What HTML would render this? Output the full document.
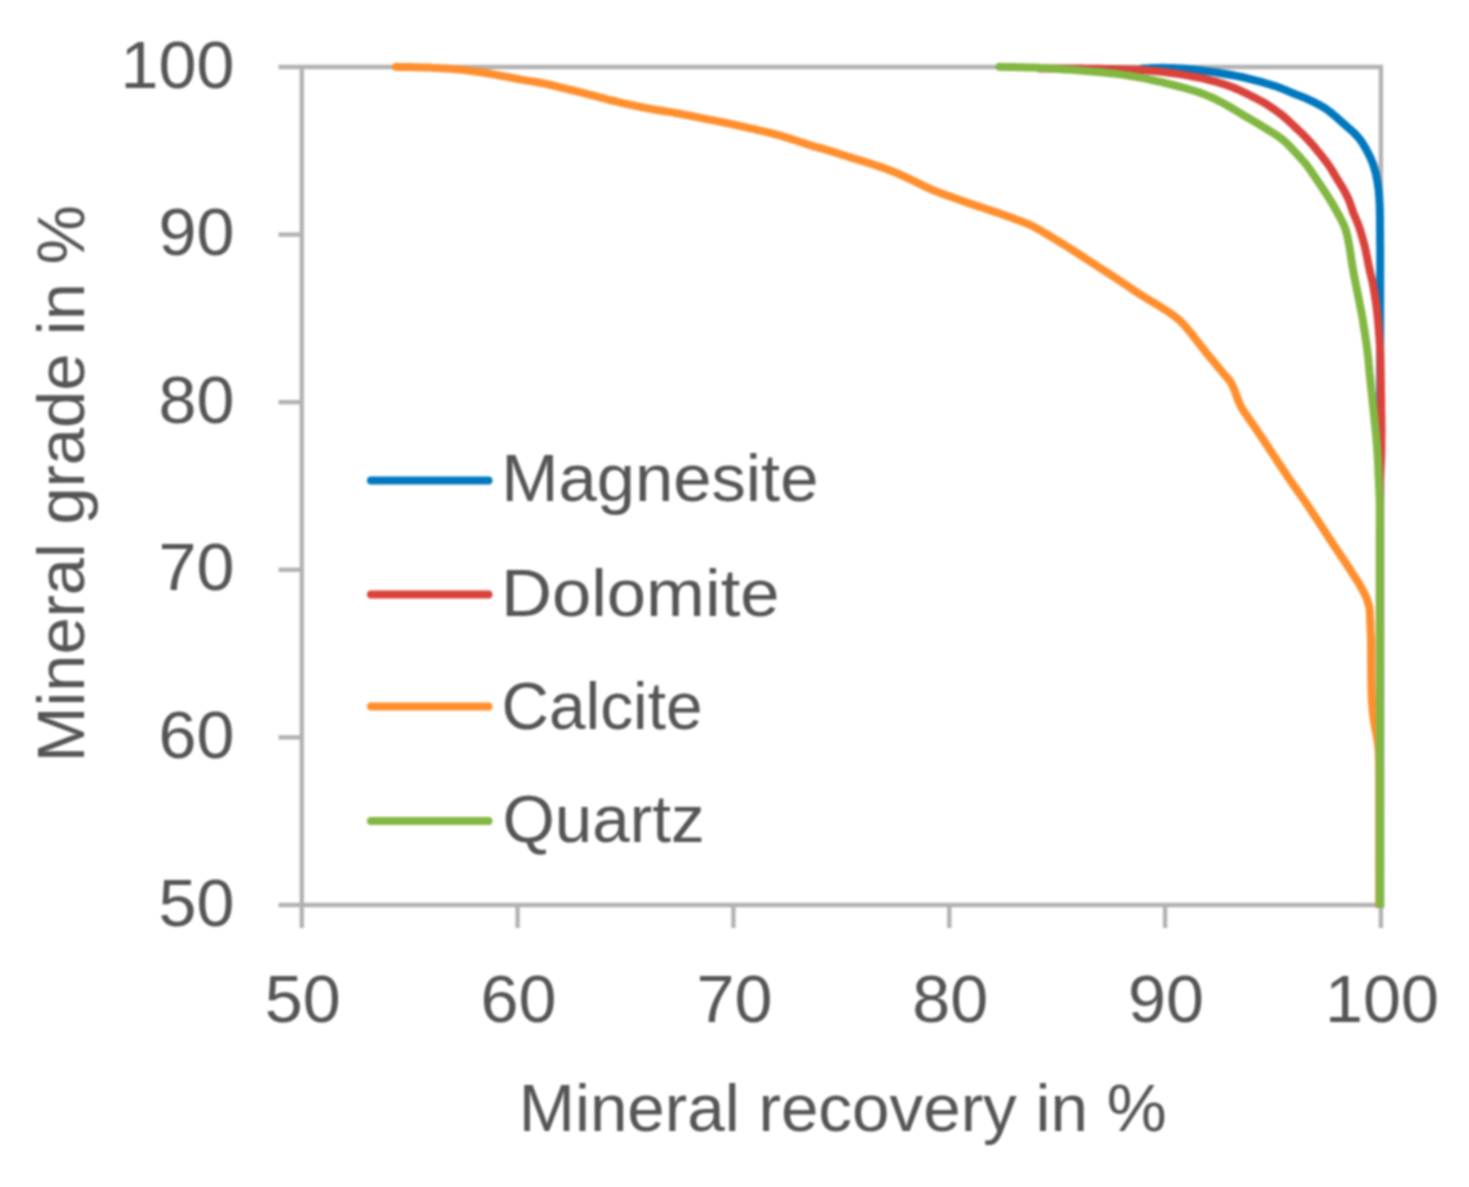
<!DOCTYPE html>
<html><head><meta charset="utf-8"><style>
html,body{margin:0;padding:0;background:#fff;}
body{width:1469px;height:1187px;overflow:hidden;}
svg{display:block;filter:blur(0.8px);}
.t{font-family:"Liberation Sans",sans-serif;font-size:66px;fill:#555555;}
</style></head><body>
<svg width="1469" height="1187" viewBox="0 0 1469 1187">
<rect width="1469" height="1187" fill="#fff"/>
<defs><clipPath id="pc"><rect x="0" y="0" width="1469" height="907.5"/></clipPath></defs>
<path d="M301.8,67.0 H1380.9 V905.0 H301.8 Z" fill="none" stroke="#B2B2B2" stroke-width="4.4"/>
<line x1="278.5" y1="905.0" x2="301.8" y2="905.0" stroke="#B2B2B2" stroke-width="4.4"/>
<line x1="278.5" y1="737.4" x2="301.8" y2="737.4" stroke="#B2B2B2" stroke-width="4.4"/>
<line x1="278.5" y1="569.8" x2="301.8" y2="569.8" stroke="#B2B2B2" stroke-width="4.4"/>
<line x1="278.5" y1="402.2" x2="301.8" y2="402.2" stroke="#B2B2B2" stroke-width="4.4"/>
<line x1="278.5" y1="234.6" x2="301.8" y2="234.6" stroke="#B2B2B2" stroke-width="4.4"/>
<line x1="278.5" y1="67.0" x2="301.8" y2="67.0" stroke="#B2B2B2" stroke-width="4.4"/>
<line x1="301.8" y1="905.0" x2="301.8" y2="928" stroke="#B2B2B2" stroke-width="4.4"/>
<line x1="517.6" y1="905.0" x2="517.6" y2="928" stroke="#B2B2B2" stroke-width="4.4"/>
<line x1="733.4" y1="905.0" x2="733.4" y2="928" stroke="#B2B2B2" stroke-width="4.4"/>
<line x1="949.3" y1="905.0" x2="949.3" y2="928" stroke="#B2B2B2" stroke-width="4.4"/>
<line x1="1165.1" y1="905.0" x2="1165.1" y2="928" stroke="#B2B2B2" stroke-width="4.4"/>
<line x1="1380.9" y1="905.0" x2="1380.9" y2="928" stroke="#B2B2B2" stroke-width="4.4"/>
<path d="M1143.0,68.6 L1146.0,68.4 L1149.0,68.3 L1152.0,68.1 L1155.0,68.0 L1158.0,67.9 L1161.0,67.8 L1164.0,67.8 L1167.0,67.9 L1170.0,67.9 L1173.0,68.0 L1176.1,68.2 L1179.1,68.4 L1182.1,68.6 L1185.1,68.8 L1188.0,69.0 L1191.0,69.3 L1194.0,69.6 L1197.0,69.9 L1200.0,70.3 L1203.0,70.7 L1206.0,71.1 L1209.0,71.5 L1211.9,71.9 L1214.9,72.3 L1217.9,72.8 L1220.9,73.3 L1223.8,73.7 L1226.8,74.2 L1229.8,74.7 L1232.7,75.2 L1235.7,75.8 L1238.6,76.4 L1241.6,77.0 L1244.5,77.7 L1247.4,78.4 L1250.3,79.1 L1253.3,79.8 L1256.2,80.6 L1259.1,81.3 L1262.0,82.1 L1264.9,83.0 L1267.7,83.8 L1270.6,84.7 L1273.5,85.6 L1276.3,86.5 L1279.2,87.5 L1282.0,88.6 L1284.8,89.7 L1287.5,90.9 L1290.3,92.1 L1293.0,93.2 L1295.8,94.4 L1298.6,95.4 L1301.4,96.5 L1304.2,97.6 L1307.0,98.8 L1309.7,100.1 L1312.4,101.4 L1315.1,102.7 L1317.8,104.1 L1320.4,105.5 L1323.0,107.0 L1325.6,108.6 L1328.0,110.4 L1330.4,112.2 L1332.7,114.1 L1335.0,116.0 L1337.3,118.0 L1339.5,120.0 L1341.8,122.0 L1344.0,124.0 L1346.3,126.0 L1348.5,128.0 L1350.8,129.9 L1353.0,131.9 L1355.2,134.0 L1357.2,136.2 L1359.2,138.5 L1361.0,140.9 L1362.6,143.3 L1364.2,145.9 L1365.7,148.5 L1367.1,151.1 L1368.5,153.8 L1369.8,156.5 L1371.1,159.2 L1372.2,162.0 L1373.3,164.8 L1374.2,167.7 L1375.0,170.6 L1375.8,173.5 L1376.4,176.4 L1377.0,179.3 L1377.5,182.3 L1378.0,185.3 L1378.4,188.2 L1378.8,191.2 L1379.0,194.2 L1379.3,197.2 L1379.4,200.2 L1379.6,203.2 L1379.7,206.2 L1379.8,209.2 L1379.9,212.2 L1379.9,215.2 L1380.0,218.2 L1380.0,221.3 L1380.0,224.3 L1380.0,227.3 L1380.1,230.3 L1380.1,233.3 L1380.1,236.3 L1380.1,239.3 L1380.1,242.3 L1380.2,245.3 L1380.2,248.3 L1380.2,251.3 L1380.2,254.3 L1380.2,257.3 L1380.2,260.3 L1380.2,263.4 L1380.2,266.4 L1380.2,269.4 L1380.2,272.4 L1380.2,275.4 L1380.2,278.4 L1380.2,281.4 L1380.2,284.4 L1380.2,287.4 L1380.2,290.4 L1380.2,293.4 L1380.2,296.4 L1380.2,299.4 L1380.2,302.5 L1380.2,305.5 L1380.2,308.5 L1380.2,311.5 L1380.2,314.5 L1380.2,317.5 L1380.2,320.5 L1380.2,323.5 L1380.2,326.5 L1380.2,329.5 L1380.2,332.5 L1380.2,335.5 L1380.2,338.5 L1380.2,341.6 L1380.2,344.6 L1380.2,347.6 L1380.2,350.6 L1380.2,353.6 L1380.2,356.6 L1380.2,359.6 L1380.2,362.6 L1380.2,365.6 L1380.2,368.6 L1380.2,371.6 L1380.2,374.6 L1380.2,377.6 L1380.2,380.7 L1380.2,383.7 L1380.2,386.7 L1380.2,389.7 L1380.2,392.7 L1380.2,395.7 L1380.2,398.7 L1380.2,401.7 L1380.2,404.7 L1380.2,407.7 L1380.2,410.7 L1380.2,413.7 L1380.2,416.7 L1380.2,419.8 L1380.2,422.8 L1380.2,425.8 L1380.2,428.8 L1380.2,431.8 L1380.2,434.8 L1380.2,437.8 L1380.2,440.8 L1380.2,443.8 L1380.2,446.8 L1380.2,449.8 L1380.2,452.8 L1380.2,455.8 L1380.2,458.9 L1380.2,461.9 L1380.2,464.9 L1380.2,467.9 L1380.2,470.9 L1380.2,473.9 L1380.2,476.9 L1380.2,479.9 L1380.2,482.9 L1380.2,485.9 L1380.2,488.9 L1380.2,491.9 L1380.2,494.9 L1380.2,498.0 L1380.2,501.0 L1380.2,504.0 L1380.2,507.0 L1380.2,510.0 L1380.2,513.0 L1380.2,516.0 L1380.2,519.0 L1380.2,522.0 L1380.2,525.0 L1380.2,528.0 L1380.2,531.0 L1380.2,534.0 L1380.2,537.1 L1380.2,540.1 L1380.2,543.1 L1380.2,546.1 L1380.2,549.1 L1380.2,552.1 L1380.2,555.1 L1380.2,558.1 L1380.2,561.1 L1380.2,564.1 L1380.2,567.1 L1380.2,570.1 L1380.2,573.1 L1380.2,576.2 L1380.2,579.2 L1380.2,582.2 L1380.2,585.2 L1380.2,588.2 L1380.2,591.2 L1380.2,594.2 L1380.2,597.2 L1380.2,600.2 L1380.2,603.2 L1380.2,606.2 L1380.2,609.2 L1380.2,612.2 L1380.2,615.3 L1380.2,618.3 L1380.2,621.3 L1380.2,624.3 L1380.2,627.3 L1380.2,630.3 L1380.2,633.3 L1380.2,636.3 L1380.2,639.3 L1380.2,642.3 L1380.2,645.3 L1380.2,648.3 L1380.2,651.3 L1380.2,654.4 L1380.2,657.4 L1380.2,660.4 L1380.2,663.4 L1380.2,666.4 L1380.2,669.4 L1380.2,672.4 L1380.2,675.4 L1380.2,678.4 L1380.2,681.4 L1380.2,684.4 L1380.2,687.4 L1380.2,690.4 L1380.2,693.4 L1380.2,696.5 L1380.2,699.5 L1380.2,702.5 L1380.2,705.5 L1380.2,708.5 L1380.2,711.5 L1380.2,714.5 L1380.2,717.5 L1380.2,720.5 L1380.2,723.5 L1380.2,726.5 L1380.2,729.5 L1380.2,732.5 L1380.2,735.6 L1380.2,738.6 L1380.2,741.6 L1380.2,744.6 L1380.2,747.6 L1380.2,750.6 L1380.2,753.6 L1380.2,756.6 L1380.2,759.6 L1380.2,762.6 L1380.2,765.6 L1380.2,768.6 L1380.2,771.6 L1380.2,774.7 L1380.2,777.7 L1380.2,780.7 L1380.2,783.7 L1380.2,786.7 L1380.2,789.7 L1380.2,792.7 L1380.2,795.7 L1380.2,798.7 L1380.2,801.7 L1380.2,804.7 L1380.2,807.7 L1380.2,810.7 L1380.2,813.8 L1380.2,816.8 L1380.2,819.8 L1380.2,822.8 L1380.2,825.8 L1380.2,828.8 L1380.2,831.8 L1380.2,834.8 L1380.2,837.8 L1380.2,840.8 L1380.2,843.8 L1380.2,846.8 L1380.2,849.8 L1380.2,852.9 L1380.2,855.9 L1380.2,858.9 L1380.2,861.9 L1380.2,864.9 L1380.2,867.9 L1380.2,870.9 L1380.2,873.9 L1380.2,876.9 L1380.2,879.9 L1380.2,882.9 L1380.2,885.9 L1380.2,888.9 L1380.2,892.0 L1380.2,895.0 L1380.2,898.0 L1380.2,901.0 L1380.2,904.0 L1380.2,907.0 L1380.2,910.0" fill="none" stroke="#0078BE" stroke-width="8" stroke-linejoin="round" stroke-linecap="round" clip-path="url(#pc)"/>
<path d="M1040.0,68.4 L1043.0,68.4 L1046.0,68.4 L1049.0,68.4 L1052.0,68.4 L1055.0,68.5 L1058.0,68.5 L1061.0,68.5 L1064.1,68.5 L1067.1,68.5 L1070.1,68.5 L1073.1,68.5 L1076.1,68.6 L1079.1,68.6 L1082.1,68.6 L1085.1,68.7 L1088.1,68.7 L1091.1,68.7 L1094.1,68.7 L1097.1,68.8 L1100.1,68.8 L1103.1,68.9 L1106.1,69.0 L1109.1,69.0 L1112.1,69.1 L1115.2,69.2 L1118.2,69.2 L1121.2,69.3 L1124.2,69.4 L1127.2,69.5 L1130.2,69.5 L1133.2,69.6 L1136.2,69.7 L1139.2,69.8 L1142.2,70.0 L1145.2,70.2 L1148.2,70.5 L1151.2,70.7 L1154.2,71.0 L1157.2,71.3 L1160.2,71.6 L1163.1,71.9 L1166.1,72.3 L1169.1,72.7 L1172.1,73.1 L1175.1,73.5 L1178.0,73.9 L1181.0,74.4 L1184.0,74.9 L1186.9,75.4 L1189.9,75.9 L1192.8,76.5 L1195.8,77.0 L1198.8,77.6 L1201.7,78.2 L1204.6,78.9 L1207.6,79.6 L1210.5,80.3 L1213.4,81.1 L1216.3,81.9 L1219.1,82.7 L1222.0,83.6 L1224.8,84.5 L1227.7,85.5 L1230.5,86.5 L1233.2,87.5 L1236.0,88.7 L1238.7,89.9 L1241.4,91.1 L1244.1,92.4 L1246.7,93.7 L1249.3,95.0 L1252.0,96.3 L1254.6,97.6 L1257.3,99.0 L1259.9,100.4 L1262.5,101.8 L1265.0,103.2 L1267.5,104.8 L1269.9,106.4 L1272.4,108.1 L1274.8,109.8 L1277.2,111.5 L1279.6,113.2 L1281.9,115.0 L1284.1,116.9 L1286.3,118.8 L1288.5,120.8 L1290.7,122.9 L1292.9,124.9 L1295.1,127.0 L1297.2,129.0 L1299.4,131.1 L1301.6,133.1 L1303.7,135.2 L1305.7,137.3 L1307.8,139.5 L1309.8,141.7 L1311.7,143.9 L1313.7,146.1 L1315.6,148.4 L1317.4,150.7 L1319.3,153.0 L1321.2,155.3 L1323.0,157.6 L1324.8,160.0 L1326.6,162.3 L1328.3,164.7 L1330.0,167.1 L1331.6,169.6 L1333.1,172.2 L1334.6,174.8 L1336.1,177.3 L1337.7,179.9 L1339.3,182.5 L1340.9,185.0 L1342.5,187.6 L1343.9,190.2 L1345.4,192.8 L1346.7,195.5 L1348.0,198.1 L1349.2,200.8 L1350.2,203.7 L1351.2,206.5 L1352.2,209.4 L1353.1,212.2 L1354.2,215.0 L1355.4,217.7 L1356.6,220.5 L1357.7,223.2 L1358.8,225.9 L1359.7,228.7 L1360.6,231.5 L1361.4,234.3 L1362.2,237.1 L1363.0,239.9 L1363.8,242.8 L1364.6,245.7 L1365.2,248.5 L1365.9,251.5 L1366.5,254.4 L1367.1,257.3 L1367.7,260.3 L1368.2,263.3 L1368.8,266.2 L1369.5,269.2 L1370.1,272.1 L1370.8,275.1 L1371.5,278.0 L1372.2,280.9 L1372.8,283.8 L1373.4,286.8 L1373.9,289.7 L1374.4,292.6 L1374.9,295.6 L1375.3,298.6 L1375.8,301.5 L1376.2,304.5 L1376.6,307.5 L1376.9,310.5 L1377.3,313.4 L1377.6,316.4 L1377.9,319.4 L1378.2,322.4 L1378.4,325.4 L1378.7,328.4 L1378.9,331.4 L1379.1,334.4 L1379.4,337.4 L1379.6,340.4 L1379.8,343.4 L1380.0,346.4 L1380.1,349.4 L1380.2,352.4 L1380.3,355.4 L1380.4,358.4 L1380.4,361.4 L1380.5,364.4 L1380.5,367.4 L1380.6,370.4 L1380.7,373.4 L1380.7,376.4 L1380.8,379.4 L1380.8,382.4 L1380.9,385.4 L1380.9,388.4 L1381.0,391.5 L1381.0,394.5 L1381.1,397.5 L1381.1,400.5 L1381.2,403.5 L1381.2,406.5 L1381.2,409.5 L1381.3,412.5 L1381.3,415.5 L1381.4,418.5 L1381.4,421.5 L1381.4,424.5 L1381.5,427.5 L1381.5,430.5 L1381.5,433.5 L1381.4,436.5 L1381.4,439.6 L1381.4,442.6 L1381.4,445.6 L1381.3,448.6 L1381.3,451.6 L1381.2,454.6 L1381.1,457.6 L1381.0,460.6 L1380.8,463.6 L1380.6,466.6 L1380.5,469.6 L1380.3,472.6 L1380.2,475.6 L1380.1,478.6 L1380.0,481.6 L1380.0,484.6 L1380.0,487.6 L1380.0,490.6 L1380.0,493.6 L1380.0,496.6 L1380.0,499.6 L1380.0,502.6 L1380.0,505.7 L1380.0,508.7 L1380.0,511.7 L1380.0,514.7 L1380.0,517.7 L1380.0,520.7 L1380.0,523.7 L1380.0,526.7 L1380.0,529.7 L1379.9,532.7 L1379.9,535.7 L1379.9,538.7 L1379.9,541.7 L1379.9,544.7 L1379.9,547.7 L1379.9,550.7 L1379.9,553.8 L1379.9,556.8 L1379.9,559.8 L1379.9,562.8 L1379.9,565.8 L1379.9,568.8 L1379.9,571.8 L1379.9,574.8 L1379.9,577.8 L1379.9,580.8 L1379.9,583.8 L1379.9,586.8 L1379.9,589.8 L1379.9,592.8 L1379.9,595.8 L1379.9,598.8 L1379.9,601.9 L1379.9,604.9 L1379.9,607.9 L1379.9,610.9 L1379.9,613.9 L1379.9,616.9 L1379.9,619.9 L1379.9,622.9 L1379.9,625.9 L1379.9,628.9 L1379.9,631.9 L1379.9,634.9 L1379.9,637.9 L1379.8,640.9 L1379.8,643.9 L1379.8,646.9 L1379.8,650.0 L1379.8,653.0 L1379.8,656.0 L1379.8,659.0 L1379.8,662.0 L1379.8,665.0 L1379.8,668.0 L1379.8,671.0 L1379.8,674.0 L1379.8,677.0 L1379.8,680.0 L1379.8,683.0 L1379.8,686.0 L1379.8,689.0 L1379.8,692.0 L1379.8,695.0 L1379.8,698.1 L1379.8,701.1 L1379.8,704.1 L1379.8,707.1 L1379.8,710.1 L1379.8,713.1 L1379.8,716.1 L1379.8,719.1 L1379.8,722.1 L1379.8,725.1 L1379.8,728.1 L1379.8,731.1 L1379.8,734.1 L1379.8,737.1 L1379.8,740.1 L1379.8,743.2 L1379.8,746.2 L1379.7,749.2 L1379.7,752.2 L1379.7,755.2 L1379.7,758.2 L1379.7,761.2 L1379.7,764.2 L1379.7,767.2 L1379.7,770.2 L1379.7,773.2 L1379.7,776.2 L1379.7,779.2 L1379.7,782.2 L1379.7,785.2 L1379.7,788.2 L1379.7,791.3 L1379.7,794.3 L1379.7,797.3 L1379.7,800.3 L1379.7,803.3 L1379.7,806.3 L1379.7,809.3 L1379.7,812.3 L1379.7,815.3 L1379.7,818.3 L1379.7,821.3 L1379.7,824.3 L1379.7,827.3 L1379.7,830.3 L1379.7,833.3 L1379.7,836.3 L1379.7,839.4 L1379.7,842.4 L1379.7,845.4 L1379.7,848.4 L1379.7,851.4 L1379.7,854.4 L1379.6,857.4 L1379.6,860.4 L1379.6,863.4 L1379.6,866.4 L1379.6,869.4 L1379.6,872.4 L1379.6,875.4 L1379.6,878.4 L1379.6,881.4 L1379.6,884.4 L1379.6,887.5 L1379.6,890.5 L1379.6,893.5 L1379.6,896.5 L1379.6,899.5 L1379.6,902.5 L1379.6,905.5 L1379.6,908.5 L1379.6,910.0" fill="none" stroke="#DA423C" stroke-width="8" stroke-linejoin="round" stroke-linecap="round" clip-path="url(#pc)"/>
<path d="M396.0,66.8 L399.0,66.9 L402.0,66.9 L405.0,67.0 L408.0,67.1 L411.0,67.1 L414.0,67.2 L417.0,67.3 L420.0,67.3 L423.0,67.4 L426.0,67.5 L429.0,67.6 L432.0,67.8 L435.0,67.9 L438.0,68.0 L441.0,68.2 L444.0,68.4 L447.0,68.6 L450.0,68.8 L453.0,69.0 L456.0,69.2 L459.0,69.5 L462.0,69.8 L465.0,70.1 L467.9,70.5 L470.9,70.9 L473.9,71.2 L476.9,71.7 L479.8,72.1 L482.8,72.5 L485.8,73.0 L488.7,73.5 L491.7,74.1 L494.7,74.6 L497.6,75.1 L500.6,75.7 L503.5,76.2 L506.5,76.8 L509.4,77.3 L512.4,77.9 L515.3,78.5 L518.3,79.0 L521.2,79.6 L524.2,80.1 L527.1,80.6 L530.1,81.1 L533.1,81.5 L536.0,82.0 L539.0,82.5 L541.9,83.1 L544.9,83.7 L547.8,84.3 L550.7,85.0 L553.7,85.7 L556.6,86.4 L559.5,87.1 L562.4,87.8 L565.3,88.5 L568.2,89.3 L571.2,90.0 L574.1,90.7 L577.0,91.4 L579.9,92.2 L582.8,92.9 L585.7,93.6 L588.6,94.4 L591.5,95.1 L594.4,95.9 L597.3,96.7 L600.2,97.5 L603.1,98.2 L606.0,99.0 L609.0,99.8 L611.9,100.5 L614.8,101.2 L617.7,101.9 L620.6,102.6 L623.6,103.3 L626.5,103.9 L629.4,104.6 L632.4,105.2 L635.3,105.8 L638.2,106.4 L641.2,107.0 L644.1,107.6 L647.1,108.2 L650.0,108.7 L653.0,109.3 L655.9,109.8 L658.9,110.2 L661.9,110.7 L664.8,111.2 L667.8,111.6 L670.8,112.1 L673.7,112.7 L676.7,113.2 L679.6,113.7 L682.6,114.3 L685.5,114.9 L688.5,115.4 L691.4,116.0 L694.4,116.6 L697.3,117.2 L700.3,117.8 L703.2,118.4 L706.1,119.0 L709.1,119.6 L712.0,120.1 L715.0,120.7 L717.9,121.3 L720.9,121.9 L723.8,122.5 L726.8,123.1 L729.7,123.7 L732.6,124.3 L735.6,125.0 L738.5,125.6 L741.4,126.3 L744.4,126.9 L747.3,127.6 L750.2,128.3 L753.2,128.9 L756.1,129.6 L759.0,130.3 L761.9,130.9 L764.9,131.6 L767.8,132.3 L770.7,133.0 L773.6,133.8 L776.5,134.6 L779.4,135.4 L782.3,136.2 L785.1,137.1 L788.0,138.0 L790.9,138.9 L793.7,139.8 L796.6,140.7 L799.4,141.7 L802.3,142.6 L805.1,143.6 L808.0,144.5 L810.9,145.4 L813.7,146.3 L816.6,147.1 L819.5,147.9 L822.4,148.7 L825.3,149.5 L828.2,150.4 L831.1,151.2 L833.9,152.1 L836.8,153.0 L839.6,153.9 L842.5,154.9 L845.4,155.8 L848.2,156.7 L851.1,157.6 L853.9,158.5 L856.8,159.4 L859.7,160.2 L862.6,161.1 L865.4,162.0 L868.3,162.9 L871.2,163.8 L874.0,164.7 L876.9,165.7 L879.7,166.6 L882.6,167.6 L885.4,168.6 L888.2,169.7 L891.0,170.8 L893.8,171.9 L896.5,173.0 L899.3,174.2 L902.0,175.5 L904.8,176.7 L907.5,178.0 L910.2,179.2 L912.9,180.5 L915.6,181.8 L918.3,183.1 L921.0,184.5 L923.7,185.8 L926.4,187.1 L929.1,188.4 L931.9,189.6 L934.6,190.8 L937.4,191.9 L940.2,193.0 L943.0,194.0 L945.9,195.0 L948.7,196.0 L951.5,197.0 L954.4,198.1 L957.2,199.1 L960.0,200.1 L962.8,201.1 L965.7,202.1 L968.5,203.1 L971.3,204.0 L974.2,205.0 L977.0,205.9 L979.9,206.9 L982.8,207.8 L985.6,208.7 L988.5,209.7 L991.3,210.6 L994.2,211.6 L997.0,212.6 L999.8,213.6 L1002.7,214.6 L1005.5,215.6 L1008.3,216.6 L1011.1,217.6 L1014.0,218.6 L1016.8,219.7 L1019.6,220.7 L1022.4,221.8 L1025.2,222.9 L1028.0,224.0 L1030.7,225.2 L1033.4,226.5 L1036.0,227.9 L1038.7,229.4 L1041.3,230.9 L1043.8,232.4 L1046.4,234.0 L1049.0,235.5 L1051.6,237.1 L1054.1,238.6 L1056.7,240.2 L1059.3,241.7 L1061.8,243.3 L1064.4,244.9 L1066.9,246.5 L1069.5,248.1 L1072.0,249.7 L1074.5,251.3 L1077.1,252.9 L1079.6,254.6 L1082.1,256.2 L1084.6,257.8 L1087.1,259.5 L1089.6,261.1 L1092.2,262.8 L1094.7,264.4 L1097.2,266.0 L1099.7,267.7 L1102.2,269.3 L1104.7,271.0 L1107.3,272.6 L1109.8,274.2 L1112.3,275.9 L1114.8,277.5 L1117.3,279.1 L1119.8,280.8 L1122.3,282.5 L1124.8,284.1 L1127.3,285.8 L1129.8,287.5 L1132.3,289.2 L1134.8,290.9 L1137.2,292.6 L1139.8,294.2 L1142.3,295.8 L1144.9,297.4 L1147.4,298.9 L1150.0,300.5 L1152.6,302.0 L1155.2,303.5 L1157.7,305.1 L1160.3,306.7 L1162.8,308.3 L1165.4,309.9 L1167.9,311.5 L1170.4,313.2 L1172.8,315.0 L1175.2,316.8 L1177.5,318.6 L1179.8,320.6 L1182.0,322.7 L1184.0,324.9 L1186.0,327.1 L1187.9,329.4 L1189.8,331.7 L1191.7,334.1 L1193.6,336.4 L1195.4,338.8 L1197.3,341.2 L1199.1,343.5 L1201.0,345.9 L1202.8,348.3 L1204.7,350.6 L1206.5,353.0 L1208.4,355.3 L1210.3,357.6 L1212.3,359.9 L1214.2,362.3 L1216.1,364.6 L1218.0,366.9 L1219.9,369.2 L1221.9,371.5 L1223.8,373.8 L1225.8,376.1 L1227.7,378.3 L1229.6,380.6 L1231.2,383.1 L1232.6,385.8 L1233.8,388.5 L1234.9,391.3 L1235.9,394.1 L1237.0,397.0 L1238.0,399.8 L1239.1,402.5 L1240.4,405.3 L1241.7,407.9 L1243.3,410.5 L1245.0,413.0 L1246.7,415.4 L1248.4,417.9 L1250.1,420.4 L1251.8,422.8 L1253.5,425.3 L1255.2,427.8 L1256.9,430.3 L1258.6,432.7 L1260.3,435.2 L1262.0,437.7 L1263.6,440.3 L1265.3,442.8 L1266.9,445.3 L1268.6,447.8 L1270.2,450.3 L1271.9,452.8 L1273.5,455.3 L1275.2,457.8 L1276.9,460.3 L1278.5,462.8 L1280.2,465.3 L1281.9,467.8 L1283.5,470.3 L1285.2,472.8 L1286.9,475.3 L1288.5,477.8 L1290.2,480.3 L1291.9,482.7 L1293.6,485.2 L1295.4,487.7 L1297.1,490.1 L1298.8,492.6 L1300.5,495.0 L1302.2,497.5 L1304.0,500.0 L1305.7,502.4 L1307.4,504.9 L1309.1,507.4 L1310.7,509.9 L1312.4,512.4 L1314.0,514.9 L1315.7,517.4 L1317.4,519.9 L1319.0,522.4 L1320.7,524.9 L1322.3,527.5 L1323.9,530.0 L1325.5,532.5 L1327.2,535.0 L1328.8,537.6 L1330.4,540.1 L1332.1,542.6 L1333.7,545.1 L1335.4,547.6 L1337.1,550.1 L1338.7,552.6 L1340.4,555.1 L1342.1,557.6 L1343.8,560.0 L1345.5,562.5 L1347.1,565.0 L1348.7,567.6 L1350.4,570.1 L1352.0,572.6 L1353.6,575.1 L1355.3,577.7 L1356.9,580.2 L1358.5,582.7 L1360.0,585.3 L1361.4,588.0 L1362.9,590.6 L1364.3,593.2 L1365.6,595.9 L1366.8,598.7 L1367.7,601.5 L1368.6,604.4 L1369.3,607.3 L1369.7,610.2 L1369.9,613.2 L1370.0,616.2 L1370.2,619.2 L1370.3,622.2 L1370.4,625.2 L1370.5,628.2 L1370.6,631.2 L1370.8,634.2 L1370.9,637.2 L1371.0,640.2 L1371.0,643.2 L1371.0,646.2 L1371.0,649.3 L1371.1,652.3 L1371.1,655.3 L1371.1,658.3 L1371.1,661.3 L1371.1,664.3 L1371.1,667.3 L1371.2,670.3 L1371.2,673.3 L1371.2,676.3 L1371.2,679.3 L1371.3,682.3 L1371.4,685.3 L1371.4,688.3 L1371.5,691.3 L1371.6,694.3 L1371.7,697.3 L1371.9,700.3 L1372.1,703.3 L1372.3,706.3 L1372.5,709.3 L1372.8,712.3 L1373.1,715.3 L1373.6,718.2 L1374.0,721.2 L1374.5,724.1 L1375.0,727.1 L1375.6,730.1 L1376.1,733.0 L1376.7,736.0 L1377.2,738.9 L1377.7,741.9 L1378.0,744.9 L1378.3,747.9 L1378.6,750.8 L1378.8,753.8 L1378.9,756.8 L1379.0,759.8 L1379.1,762.8 L1379.2,765.8 L1379.2,768.8 L1379.3,771.8 L1379.3,774.9 L1379.3,777.9 L1379.3,780.9 L1379.3,783.9 L1379.3,786.9 L1379.3,789.9 L1379.3,792.9 L1379.3,795.9 L1379.3,798.9 L1379.3,801.9 L1379.3,804.9 L1379.4,807.9 L1379.4,810.9 L1379.4,813.9 L1379.4,816.9 L1379.4,819.9 L1379.4,822.9 L1379.4,825.9 L1379.4,828.9 L1379.4,831.9 L1379.4,834.9 L1379.4,837.9 L1379.4,840.9 L1379.4,843.9 L1379.4,846.9 L1379.4,849.9 L1379.4,852.9 L1379.4,855.9 L1379.4,858.9 L1379.4,861.9 L1379.4,865.0 L1379.4,868.0 L1379.4,871.0 L1379.4,874.0 L1379.5,877.0 L1379.5,880.0 L1379.5,883.0 L1379.5,886.0 L1379.5,889.0 L1379.5,892.0 L1379.5,895.0 L1379.5,898.0 L1379.5,901.0 L1379.5,904.0 L1379.5,907.0 L1379.5,910.0" fill="none" stroke="#FF8F2E" stroke-width="8" stroke-linejoin="round" stroke-linecap="round" clip-path="url(#pc)"/>
<path d="M999.5,66.8 L1002.5,66.9 L1005.5,66.9 L1008.5,67.0 L1011.5,67.1 L1014.5,67.1 L1017.5,67.2 L1020.5,67.3 L1023.5,67.3 L1026.5,67.4 L1029.5,67.5 L1032.5,67.5 L1035.5,67.6 L1038.5,67.7 L1041.6,67.9 L1044.6,68.0 L1047.5,68.2 L1050.5,68.4 L1053.5,68.6 L1056.5,68.8 L1059.5,69.0 L1062.5,69.2 L1065.5,69.4 L1068.5,69.6 L1071.5,69.8 L1074.5,70.1 L1077.5,70.3 L1080.5,70.5 L1083.5,70.8 L1086.5,71.0 L1089.5,71.2 L1092.5,71.5 L1095.5,71.7 L1098.5,72.0 L1101.5,72.3 L1104.5,72.6 L1107.5,72.9 L1110.4,73.2 L1113.4,73.5 L1116.4,73.8 L1119.4,74.2 L1122.4,74.6 L1125.3,75.1 L1128.3,75.5 L1131.3,76.0 L1134.2,76.5 L1137.2,77.0 L1140.2,77.6 L1143.1,78.1 L1146.0,78.7 L1149.0,79.4 L1151.9,80.0 L1154.9,80.6 L1157.8,81.3 L1160.7,81.9 L1163.7,82.6 L1166.6,83.3 L1169.5,84.1 L1172.4,84.8 L1175.3,85.5 L1178.2,86.3 L1181.1,87.0 L1184.0,87.8 L1186.9,88.7 L1189.8,89.5 L1192.7,90.3 L1195.6,91.2 L1198.4,92.1 L1201.3,93.1 L1204.1,94.2 L1206.8,95.4 L1209.6,96.5 L1212.3,97.7 L1215.1,99.0 L1217.7,100.3 L1220.4,101.7 L1223.0,103.1 L1225.6,104.5 L1228.3,106.0 L1230.8,107.5 L1233.4,109.0 L1236.0,110.5 L1238.5,112.1 L1241.0,113.7 L1243.5,115.3 L1246.2,116.8 L1248.7,118.2 L1251.3,119.7 L1253.9,121.3 L1256.5,122.8 L1259.0,124.3 L1261.6,125.9 L1264.1,127.4 L1266.7,129.0 L1269.2,130.5 L1271.7,132.1 L1274.2,133.7 L1276.7,135.3 L1279.1,137.0 L1281.4,138.7 L1283.7,140.5 L1285.8,142.4 L1287.9,144.4 L1290.0,146.5 L1292.0,148.7 L1294.1,150.9 L1296.1,153.1 L1298.1,155.3 L1300.1,157.5 L1302.1,159.7 L1304.1,162.0 L1306.0,164.2 L1307.8,166.6 L1309.5,169.0 L1311.3,171.4 L1313.0,173.9 L1314.7,176.4 L1316.4,178.9 L1318.0,181.4 L1319.7,183.9 L1321.4,186.4 L1323.0,188.9 L1324.7,191.4 L1326.3,193.9 L1327.9,196.4 L1329.5,199.0 L1331.1,201.5 L1332.6,204.1 L1334.1,206.7 L1335.6,209.3 L1337.1,211.9 L1338.5,214.5 L1339.9,217.2 L1341.3,219.8 L1342.6,222.5 L1343.9,225.1 L1345.0,227.9 L1345.9,230.7 L1346.7,233.5 L1347.4,236.4 L1348.0,239.3 L1348.6,242.2 L1349.2,245.2 L1349.7,248.1 L1350.1,251.1 L1350.6,254.0 L1351.0,257.0 L1351.4,260.0 L1351.9,263.0 L1352.4,265.9 L1352.9,268.9 L1353.4,271.9 L1354.0,274.8 L1354.5,277.8 L1355.1,280.7 L1355.7,283.7 L1356.3,286.6 L1356.9,289.6 L1357.5,292.5 L1358.1,295.5 L1358.7,298.4 L1359.3,301.4 L1359.8,304.3 L1360.4,307.2 L1361.0,310.2 L1361.6,313.1 L1362.1,316.1 L1362.7,319.0 L1363.1,322.0 L1363.6,324.9 L1364.0,327.9 L1364.5,330.9 L1365.0,333.8 L1365.4,336.8 L1365.9,339.8 L1366.3,342.7 L1366.7,345.7 L1367.1,348.7 L1367.5,351.7 L1367.8,354.7 L1368.2,357.6 L1368.5,360.6 L1368.7,363.6 L1369.0,366.6 L1369.3,369.6 L1369.5,372.6 L1369.8,375.6 L1370.2,378.6 L1370.5,381.6 L1370.8,384.6 L1371.1,387.6 L1371.4,390.5 L1371.8,393.5 L1372.1,396.5 L1372.4,399.5 L1372.7,402.5 L1373.0,405.5 L1373.4,408.5 L1373.7,411.5 L1374.0,414.4 L1374.3,417.4 L1374.6,420.4 L1374.9,423.4 L1375.2,426.4 L1375.5,429.4 L1375.8,432.4 L1376.1,435.4 L1376.4,438.4 L1376.6,441.4 L1376.9,444.3 L1377.1,447.3 L1377.3,450.3 L1377.5,453.3 L1377.7,456.3 L1377.8,459.3 L1378.0,462.3 L1378.1,465.3 L1378.3,468.3 L1378.4,471.3 L1378.5,474.3 L1378.7,477.3 L1378.8,480.3 L1379.0,483.3 L1379.1,486.3 L1379.3,489.3 L1379.4,492.4 L1379.5,495.4 L1379.7,498.4 L1379.7,501.4 L1379.8,504.4 L1379.8,507.4 L1379.8,510.4 L1379.8,513.4 L1379.8,516.4 L1379.8,519.4 L1379.8,522.4 L1379.8,525.4 L1379.8,528.4 L1379.8,531.4 L1379.8,534.4 L1379.8,537.4 L1379.8,540.4 L1379.8,543.4 L1379.8,546.4 L1379.8,549.4 L1379.8,552.4 L1379.8,555.4 L1379.8,558.4 L1379.8,561.4 L1379.8,564.5 L1379.8,567.5 L1379.8,570.5 L1379.8,573.5 L1379.8,576.5 L1379.8,579.5 L1379.8,582.5 L1379.8,585.5 L1379.8,588.5 L1379.8,591.5 L1379.8,594.5 L1379.8,597.5 L1379.8,600.5 L1379.8,603.5 L1379.8,606.5 L1379.8,609.5 L1379.8,612.5 L1379.8,615.5 L1379.8,618.5 L1379.8,621.5 L1379.8,624.5 L1379.8,627.6 L1379.8,630.6 L1379.8,633.6 L1379.8,636.6 L1379.8,639.6 L1379.8,642.6 L1379.8,645.6 L1379.8,648.6 L1379.8,651.6 L1379.8,654.6 L1379.8,657.6 L1379.8,660.6 L1379.8,663.6 L1379.8,666.6 L1379.8,669.6 L1379.8,672.6 L1379.8,675.6 L1379.8,678.6 L1379.8,681.6 L1379.8,684.6 L1379.8,687.6 L1379.8,690.7 L1379.8,693.7 L1379.8,696.7 L1379.8,699.7 L1379.8,702.7 L1379.9,705.7 L1379.9,708.7 L1379.9,711.7 L1379.9,714.7 L1379.9,717.7 L1379.9,720.7 L1379.9,723.7 L1379.9,726.7 L1379.9,729.7 L1379.9,732.7 L1379.9,735.7 L1379.9,738.7 L1379.9,741.7 L1379.9,744.7 L1379.9,747.7 L1379.9,750.7 L1379.9,753.8 L1379.9,756.8 L1379.9,759.8 L1379.9,762.8 L1379.9,765.8 L1379.9,768.8 L1379.9,771.8 L1379.9,774.8 L1379.9,777.8 L1379.9,780.8 L1379.9,783.8 L1379.9,786.8 L1379.9,789.8 L1379.9,792.8 L1379.9,795.8 L1379.9,798.8 L1379.9,801.8 L1379.9,804.8 L1379.9,807.8 L1379.9,810.8 L1379.9,813.8 L1379.9,816.9 L1379.9,819.9 L1379.9,822.9 L1379.9,825.9 L1379.9,828.9 L1379.9,831.9 L1379.9,834.9 L1379.9,837.9 L1379.9,840.9 L1379.9,843.9 L1379.9,846.9 L1379.9,849.9 L1379.9,852.9 L1379.9,855.9 L1379.9,858.9 L1379.9,861.9 L1379.9,864.9 L1379.9,867.9 L1379.9,870.9 L1379.9,873.9 L1379.9,876.9 L1379.9,880.0 L1379.9,883.0 L1379.9,886.0 L1379.9,889.0 L1379.9,892.0 L1379.9,895.0 L1379.9,898.0 L1379.9,901.0 L1379.9,904.0 L1379.9,907.0 L1379.9,910.0" fill="none" stroke="#82B742" stroke-width="8" stroke-linejoin="round" stroke-linecap="round" clip-path="url(#pc)"/>
<text transform="translate(234.5,925.6) scale(1.035,1)" text-anchor="end" class="t">50</text>
<text transform="translate(234.5,758.0) scale(1.035,1)" text-anchor="end" class="t">60</text>
<text transform="translate(234.5,590.4) scale(1.035,1)" text-anchor="end" class="t">70</text>
<text transform="translate(234.5,422.8) scale(1.035,1)" text-anchor="end" class="t">80</text>
<text transform="translate(234.5,255.2) scale(1.035,1)" text-anchor="end" class="t">90</text>
<text transform="translate(234.5,87.6) scale(1.035,1)" text-anchor="end" class="t">100</text>
<text transform="translate(302.8,1022.3) scale(1.035,1)" text-anchor="middle" class="t">50</text>
<text transform="translate(518.6,1022.3) scale(1.035,1)" text-anchor="middle" class="t">60</text>
<text transform="translate(734.4,1022.3) scale(1.035,1)" text-anchor="middle" class="t">70</text>
<text transform="translate(950.3,1022.3) scale(1.035,1)" text-anchor="middle" class="t">80</text>
<text transform="translate(1166.1,1022.3) scale(1.035,1)" text-anchor="middle" class="t">90</text>
<text transform="translate(1381.9,1022.3) scale(1.035,1)" text-anchor="middle" class="t">100</text>
<line x1="371" y1="480.4" x2="488.5" y2="480.4" stroke="#0078BE" stroke-width="8" stroke-linecap="round"/>
<text transform="translate(501.35,501.0) scale(1.0414,1)" class="t">Magnesite</text>
<line x1="371" y1="594.6" x2="488.5" y2="594.6" stroke="#DA423C" stroke-width="8" stroke-linecap="round"/>
<text transform="translate(500.88,616.0) scale(1.0701,1)" class="t">Dolomite</text>
<line x1="371" y1="706.6" x2="488.5" y2="706.6" stroke="#FF8F2E" stroke-width="8" stroke-linecap="round"/>
<text transform="translate(501.51,728.5) scale(0.9964,1)" class="t">Calcite</text>
<line x1="371" y1="821.1" x2="488.5" y2="821.1" stroke="#82B742" stroke-width="8" stroke-linecap="round"/>
<text transform="translate(502.44,842.3) scale(1.0208,1)" class="t">Quartz</text>
<text transform="translate(842.7,1131.2) scale(1.021,1)" text-anchor="middle" class="t">Mineral recovery in %</text>
<text transform="translate(84.4,483.7) rotate(-90) scale(1.0125,1)" text-anchor="middle" class="t">Mineral grade in %</text>
</svg>
</body></html>
